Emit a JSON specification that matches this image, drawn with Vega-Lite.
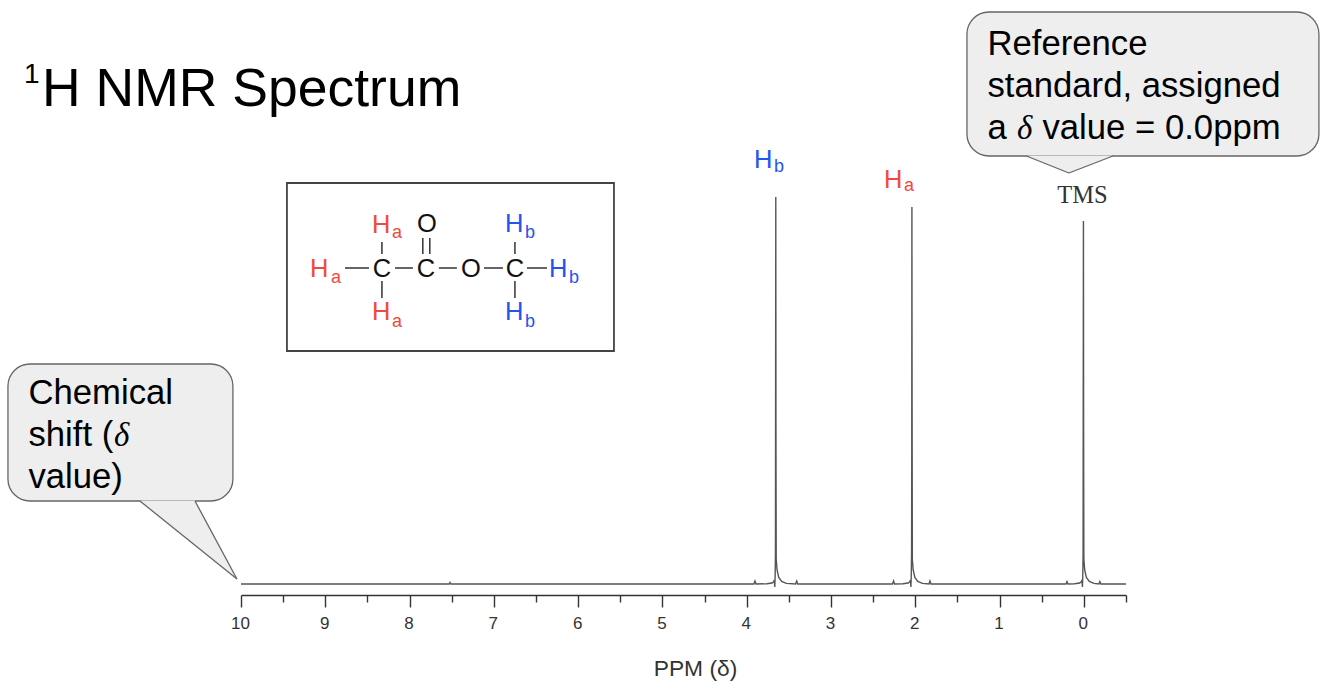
{
"$schema":"https://vega.github.io/schema/vega-lite/v6.json",
"width":885,"height":595,
"autosize":{"type":"none"},
"padding":{"left":241,"top":0,"right":208,"bottom":94},
"background":"white",
"view":{"stroke":null},
"datasets":{
"spectrum":[
{"ppm":10,"i":0},{"ppm":7.53,"i":0},{"ppm":7.52,"i":0.3},{"ppm":7.51,"i":0},
{"ppm":3.915,"i":0},{"ppm":3.902,"i":0.6},{"ppm":3.89,"i":0},{"ppm":3.76,"i":0.05},{"ppm":3.7,"i":0.2},{"ppm":3.68,"i":0.45},{"ppm":3.672,"i":0.8},{"ppm":3.667,"i":-0.6},{"ppm":3.663,"i":1.5},{"ppm":3.659,"i":6},{"ppm":3.657,"i":42},{"ppm":3.655,"i":77.4},{"ppm":3.653,"i":30},{"ppm":3.65,"i":5},{"ppm":3.64,"i":2.8},{"ppm":3.62,"i":1.3},{"ppm":3.585,"i":0.5},{"ppm":3.53,"i":0.12},{"ppm":3.42,"i":0},{"ppm":3.407,"i":0.6},{"ppm":3.395,"i":0},
{"ppm":2.27,"i":0},{"ppm":2.258,"i":0.6},{"ppm":2.246,"i":0},{"ppm":2.145,"i":0.05},{"ppm":2.085,"i":0.2},{"ppm":2.065,"i":0.45},{"ppm":2.057,"i":0.8},{"ppm":2.052,"i":-0.6},{"ppm":2.048,"i":1.5},{"ppm":2.044,"i":6},{"ppm":2.042,"i":24},{"ppm":2.04,"i":75.4},{"ppm":2.038,"i":38},{"ppm":2.035,"i":5},{"ppm":2.025,"i":2.8},{"ppm":2.005,"i":1.3},{"ppm":1.97,"i":0.5},{"ppm":1.915,"i":0.12},{"ppm":1.838,"i":0},{"ppm":1.826,"i":0.6},{"ppm":1.814,"i":0},
{"ppm":0.212,"i":0},{"ppm":0.2,"i":0.5},{"ppm":0.188,"i":0},{"ppm":0.11,"i":0.05},{"ppm":0.05,"i":0.2},{"ppm":0.03,"i":0.45},{"ppm":0.022,"i":0.8},{"ppm":0.017,"i":-0.6},{"ppm":0.013,"i":1.5},{"ppm":0.009,"i":6},{"ppm":0.007,"i":46},{"ppm":0.005,"i":72.6},{"ppm":0.003,"i":32},{"ppm":0,"i":5},{"ppm":-0.01,"i":2.8},{"ppm":-0.03,"i":1.3},{"ppm":-0.065,"i":0.5},{"ppm":-0.12,"i":0.12},{"ppm":-0.178,"i":0},{"ppm":-0.19,"i":0.5},{"ppm":-0.202,"i":0},
{"ppm":-0.5,"i":0}
]},
"layer":[
{"data":{"values":[{"x":1.387,"x2":-2.789,"y":114.4,"y2":85.6},{"x":12.765,"x2":10.096,"y":44,"y2":16.6}]},
 "mark":{"type":"rect","fill":"#eeeeee","stroke":"#666666","strokeWidth":1.3,"cornerRadius":22},
 "encoding":{"x":{"field":"x","type":"quantitative","scale":{"domain":[10,-0.5],"nice":false,"zero":false},
   "axis":{"values":[10,9.5,9,8.5,8,7.5,7,6.5,6,5.5,5,4.5,4,3.5,3,2.5,2,1.5,1,0.5,0,-0.5],
     "labelExpr":"datum.value % 1 === 0 ? format(datum.value,'d') : ''","labelOverlap":false,"labelFlush":false,"labelBound":false,
     "labelFont":"Liberation Sans","labelFontSize":17,"labelColor":"#333333","labelBaseline":"alphabetic","labelPadding":21,"labelOffset":-1,
     "tickSize":{"condition":{"test":"datum.value % 1 === 0","value":12},"value":7},"tickColor":"#333333","tickWidth":1.4,"domainColor":"#333333","domainWidth":1.6,"grid":false,
     "title":"PPM (δ)","titleFont":"Liberation Sans","titleFontSize":22.8,"titleFontWeight":"normal","titleColor":"#333333","titleX":454,"titleY":80,"titleBaseline":"alphabetic","titleAlign":"center"}},
  "x2":{"field":"x2"},
  "y":{"field":"y","type":"quantitative","scale":{"domain":[-2.2,116.8],"nice":false,"zero":false},"axis":null},
  "y2":{"field":"y2"}}},
{"data":{"values":[{"x":0.681,"y":85.7,"y2":85.7},{"x":0.177,"y":82.2,"y2":85.7},{"x":-0.345,"y":85.7,"y2":85.7}]},
 "mark":{"type":"area","fill":"#eeeeee","opacity":1},
 "encoding":{"x":{"field":"x","type":"quantitative"},"y":{"field":"y","type":"quantitative"},"y2":{"field":"y2"}}},
{"data":{"values":[{"x":11.199,"y":16.7,"y2":16.7},{"x":10.546,"y":7.76,"y2":16.7},{"x":10.048,"y":1,"y2":1}]},
 "mark":{"type":"area","fill":"#eeeeee","opacity":1},
 "encoding":{"x":{"field":"x","type":"quantitative"},"y":{"field":"y","type":"quantitative"},"y2":{"field":"y2"}}},
{"data":{"values":[
 {"x":0.681,"x2":0.177,"y":85.6,"y2":82.2},{"x":0.177,"x2":-0.345,"y":82.2,"y2":85.6},
 {"x":11.199,"x2":10.048,"y":16.6,"y2":1},{"x":10.546,"x2":10.048,"y":16.6,"y2":1}]},
 "mark":{"type":"rule","color":"#666666","strokeWidth":1.3},
 "encoding":{"x":{"field":"x","type":"quantitative"},"x2":{"field":"x2"},"y":{"field":"y","type":"quantitative"},"y2":{"field":"y2"}}},
{"data":{"values":[{"x":9.455,"x2":5.575,"y":80.2,"y2":46.6}]},
 "mark":{"type":"rect","filled":false,"stroke":"#444444","strokeWidth":1.8},
 "encoding":{"x":{"field":"x","type":"quantitative"},"x2":{"field":"x2"},"y":{"field":"y","type":"quantitative"},"y2":{"field":"y2"}}},
{"data":{"values":[
 {"x":8.766,"x2":8.481,"y":63.2,"y2":63.2},{"x":8.173,"x2":7.96,"y":63.2,"y2":63.2},{"x":7.652,"x2":7.438,"y":63.2,"y2":63.2},{"x":7.117,"x2":6.892,"y":63.2,"y2":63.2},{"x":6.607,"x2":6.37,"y":63.2,"y2":63.2},
 {"x":8.328,"x2":8.328,"y":68.4,"y2":66},{"x":8.328,"x2":8.328,"y":60.6,"y2":57.2},{"x":6.75,"x2":6.75,"y":68.4,"y2":66},{"x":6.75,"x2":6.75,"y":60.6,"y2":57.2},
 {"x":7.843,"x2":7.843,"y":69.2,"y2":66},{"x":7.76,"x2":7.76,"y":69.2,"y2":66}]},
 "mark":{"type":"rule","color":"#333333","strokeWidth":1.5},
 "encoding":{"x":{"field":"x","type":"quantitative"},"x2":{"field":"x2"},"y":{"field":"y","type":"quantitative"},"y2":{"field":"y2"}}},
{"data":{"name":"spectrum"},
 "mark":{"type":"line","color":"#555555","strokeWidth":1.4},
 "encoding":{"x":{"field":"ppm","type":"quantitative"},"y":{"field":"i","type":"quantitative"}}},
{"data":{"values":[{"x":8.328,"y":61.4,"t":"C"},{"x":7.806,"y":61.4,"t":"C"},{"x":7.272,"y":61.4,"t":"O"},{"x":6.75,"y":61.4,"t":"C"},{"x":7.794,"y":70.4,"t":"O"}]},
 "mark":{"type":"text","font":"Liberation Sans","fontSize":25.5,"align":"center","baseline":"alphabetic","color":"#111111"},
 "encoding":{"x":{"field":"x","type":"quantitative"},"y":{"field":"y","type":"quantitative"},"text":{"field":"t"}}},
{"data":{"values":[{"x":8.446,"y":70.2,"t":"H"},{"x":9.182,"y":61.4,"t":"H"},{"x":8.446,"y":52.8,"t":"H"},{"x":2.372,"y":79.2,"t":"H"}]},
 "mark":{"type":"text","font":"Liberation Sans","fontSize":25.5,"align":"left","baseline":"alphabetic","color":"#EE4B3A"},
 "encoding":{"x":{"field":"x","type":"quantitative"},"y":{"field":"y","type":"quantitative"},"text":{"field":"t"}}},
{"data":{"values":[{"x":8.209,"y":69.2,"t":"a"},{"x":8.933,"y":60.2,"t":"a"},{"x":8.209,"y":51.4,"t":"a"},{"x":2.134,"y":78.6,"t":"a"}]},
 "mark":{"type":"text","font":"Liberation Sans","fontSize":18,"align":"left","baseline":"alphabetic","color":"#EE4B3A"},
 "encoding":{"x":{"field":"x","type":"quantitative"},"y":{"field":"y","type":"quantitative"},"text":{"field":"t"}}},
{"data":{"values":[{"x":6.868,"y":70.4,"t":"H"},{"x":6.346,"y":61.4,"t":"H"},{"x":6.868,"y":52.8,"t":"H"},{"x":3.914,"y":83.2,"t":"H"}]},
 "mark":{"type":"text","font":"Liberation Sans","fontSize":25.5,"align":"left","baseline":"alphabetic","color":"#2255EE"},
 "encoding":{"x":{"field":"x","type":"quantitative"},"y":{"field":"y","type":"quantitative"},"text":{"field":"t"}}},
{"data":{"values":[{"x":6.631,"y":69.2,"t":"b"},{"x":6.109,"y":60.2,"t":"b"},{"x":6.631,"y":51.4,"t":"b"},{"x":3.677,"y":82.4,"t":"b"}]},
 "mark":{"type":"text","font":"Liberation Sans","fontSize":18,"align":"left","baseline":"alphabetic","color":"#2255EE"},
 "encoding":{"x":{"field":"x","type":"quantitative"},"y":{"field":"y","type":"quantitative"},"text":{"field":"t"}}},
{"data":{"values":[{"x":0.017,"y":76.2,"t":"TMS"}]},
 "mark":{"type":"text","font":"Liberation Serif","fontSize":24.5,"align":"center","baseline":"alphabetic","color":"#333333"},
 "encoding":{"x":{"field":"x","type":"quantitative"},"y":{"field":"y","type":"quantitative"},"text":{"field":"t"}}},
{"data":{"values":[{"x":1.144,"y":105.8,"t":"Reference"},{"x":1.144,"y":97.4,"t":"standard, assigned"},{"x":1.144,"y":89.1,"t":"a"},{"x":0.491,"y":89.1,"t":"value = 0.0ppm"},
 {"x":12.522,"y":36.1,"t":"Chemical"},{"x":12.522,"y":27.7,"t":"shift ("},{"x":12.522,"y":19.3,"t":"value)"}]},
 "mark":{"type":"text","font":"Liberation Sans","fontSize":34.7,"align":"left","baseline":"alphabetic","color":"#000000"},
 "encoding":{"x":{"field":"x","type":"quantitative"},"y":{"field":"y","type":"quantitative"},"text":{"field":"t"}}},
{"data":{"values":[{"x":0.794,"y":89.1,"t":"δ"},{"x":11.507,"y":27.7,"t":"δ"}]},
 "mark":{"type":"text","font":"Liberation Serif","fontStyle":"italic","fontSize":33,"align":"left","baseline":"alphabetic","color":"#000000"},
 "encoding":{"x":{"field":"x","type":"quantitative"},"y":{"field":"y","type":"quantitative"},"text":{"field":"t"}}},
{"data":{"values":[{"x":12.36,"y":95.6,"t":"H NMR Spectrum"}]},
 "mark":{"type":"text","font":"Liberation Sans","fontSize":53.5,"align":"left","baseline":"alphabetic","color":"#000000"},
 "encoding":{"x":{"field":"x","type":"quantitative"},"y":{"field":"y","type":"quantitative"},"text":{"field":"t"}}},
{"data":{"values":[{"x":12.575,"y":100.2,"t":"1"}]},
 "mark":{"type":"text","font":"Liberation Sans","fontSize":28,"align":"left","baseline":"alphabetic","color":"#000000"},
 "encoding":{"x":{"field":"x","type":"quantitative"},"y":{"field":"y","type":"quantitative"},"text":{"field":"t"}}}
]
}
